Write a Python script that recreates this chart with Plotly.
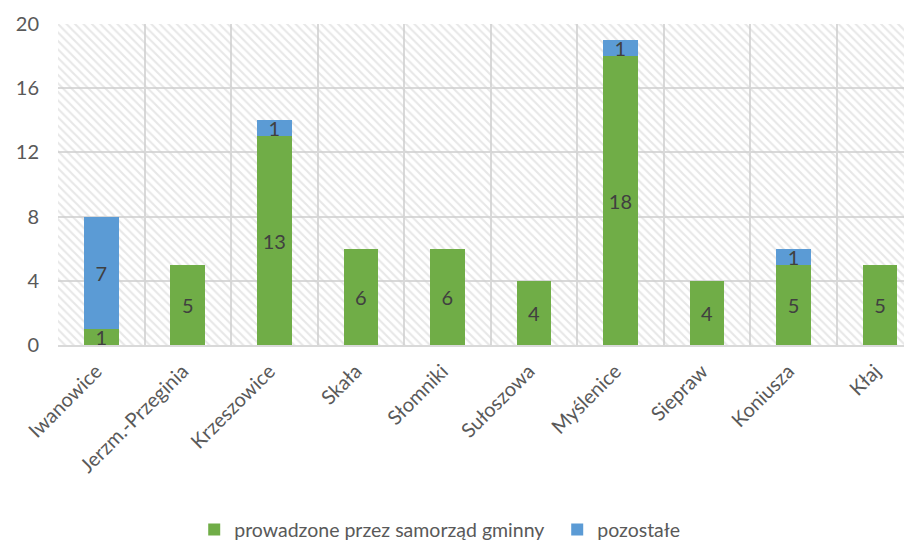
import plotly.graph_objects as go

categories = ["Iwanowice", "Jerzm.-Przeginia", "Krzeszowice", "Skała", "Słomniki",
              "Sułoszowa", "Myślenice", "Siepraw", "Koniusza", "Kłaj"]
gminne = [1, 5, 13, 6, 6, 4, 18, 4, 5, 5]
pozostale = [7, None, 1, None, None, None, 1, None, 1, None]
y_ticks = [0, 4, 8, 12, 16, 20]

GREEN = "#70ad47"
BLUE = "#5b9bd5"
GRID = "#d9d9d9"
FONT = "Lato"

fig = go.Figure()

# hatched plot-area background (decoration on hidden base axes)
bx = [0, 1, 1, 0, 0]
by = [0, 0, 1, 1, 0]
fig.add_trace(go.Scatter(
    x=bx, y=by, mode="none", fill="toself", fillcolor="rgba(0,0,0,0)",
    fillpattern=dict(shape="\\", fgcolor="#d0d0d0", bgcolor="rgba(0,0,0,0)",
                     size=6, solidity=0.35),
    hoverinfo="skip", showlegend=False, xaxis="x", yaxis="y"))

common = dict(textposition="inside", insidetextanchor="middle", constraintext="none",
              textangle=0,
              textfont=dict(family=FONT, size=20, color="#404040"),
              xaxis="x2", yaxis="y2", width=0.4)
fig.add_trace(go.Bar(x=categories, y=gminne, name="prowadzone przez samorząd gminny",
                     marker=dict(color=GREEN, line=dict(width=0)),
                     text=gminne, **common))
fig.add_trace(go.Bar(x=categories, y=pozostale, name="pozostałe",
                     marker=dict(color=BLUE, line=dict(width=0)),
                     text=pozostale, **common))

fig.update_layout(
    width=904, height=534,
    margin=dict(l=50, r=0, t=16, b=197, autoexpand=False),
    paper_bgcolor="white", plot_bgcolor="rgba(0,0,0,0)",
    barmode="stack",
    uniformtext=dict(minsize=20, mode="show"),
    font=dict(family=FONT, color="#595959"),
    xaxis=dict(range=[0, 1], visible=False, fixedrange=True, automargin=False),
    yaxis=dict(range=[0, 1], visible=False, fixedrange=True, automargin=False),
    xaxis2=dict(overlaying="x", anchor="y2", type="category",
                range=[-0.5, 9.37], tickson="boundaries", automargin=False,
                showgrid=True, gridcolor=GRID, gridwidth=1.5,
                showline=True, linecolor=GRID, linewidth=1.5,
                ticks="", tickangle=-45, ticklabelstandoff=5, ticklabelshift=-5,
                tickfont=dict(family=FONT, size=20, color="#595959")),
    yaxis2=dict(overlaying="y", anchor="x2", side="left", automargin=False,
                range=[0, 20], tickvals=y_ticks,
                showgrid=True, gridcolor=GRID, gridwidth=1.5,
                zeroline=False, ticks="", ticklabelstandoff=18,
                tickfont=dict(family=FONT, size=20, color="#595959")),
    legend=dict(orientation="h", x=0.1595, xanchor="left", y=-0.576, yanchor="middle",
                font=dict(family=FONT, size=19.5, color="#595959"),
                traceorder="normal", entrywidth=318, entrywidthmode="pixels"),
    showlegend=True,
)

fig.write_html("out.html")
